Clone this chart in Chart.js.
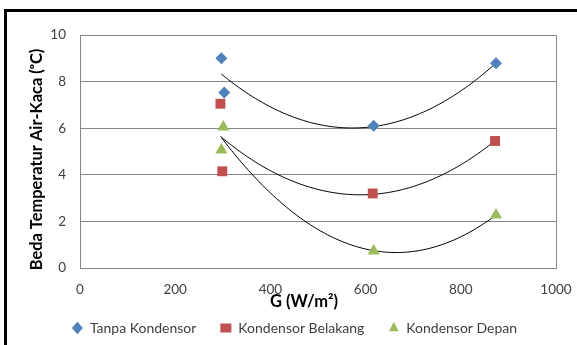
<!DOCTYPE html>
<html>
<head>
<meta charset="utf-8">
<script src="https://cdn.jsdelivr.net/npm/chart.js@4"></script>
<style>
  html, body { margin: 0; padding: 0; background: #fff; }
  #wrap { position: relative; width: 577px; height: 345px; overflow: hidden; }
  #frame { position: absolute; left: 4px; top: 9px; width: 700px; height: 500px; border-top: 3px solid #000; border-left: 3px solid #000; }
  canvas { position: absolute; left: 0; top: 0; }
</style>
</head>
<body>
<div id="wrap">
  <div id="frame"></div>
  <canvas id="chart" width="577" height="345"></canvas>
</div>
<script>
// --- DATA ---
const seriesNames = ['Tanpa Kondensor', 'Kondensor Belakang', 'Kondensor Depan'];
const tanpaG = [297, 303, 617, 874];
const tanpaT = [9.0, 7.53, 6.1, 8.79];
const belakangG = [295, 299, 615, 872];
const belakangT = [7.05, 4.15, 3.2, 5.45];
const depanG = [301, 297, 617, 874];
const depanT = [6.05, 5.06, 0.73, 2.28];
const xTicks = [0, 200, 400, 600, 800, 1000];
const yTicks = [0, 2, 4, 6, 8, 10];

const colors = ['#4F81BD', '#C0504D', '#9BBB59'];
const styles = ['rectRot', 'rect', 'triangle'];
const radii = [6, 7, 7];
const FONT = 'Lato, "Open Sans", sans-serif';
const NB = '\u00a0';

// polynomial (order 2) trendline, like the Excel one
function quadFit(xs, ys) {
    let n = xs.length, sx = 0, sx2 = 0, sx3 = 0, sx4 = 0, sy = 0, sxy = 0, sx2y = 0;
    xs.forEach((x, i) => {
        const y = ys[i];
        sx += x; sx2 += x * x; sx3 += x ** 3; sx4 += x ** 4;
        sy += y; sxy += x * y; sx2y += x * x * y;
    });
    const M = [[n, sx, sx2, sy], [sx, sx2, sx3, sxy], [sx2, sx3, sx4, sx2y]];
    for (let c = 0; c < 3; c++) {
        for (let r = c + 1; r < 3; r++) {
            const f = M[r][c] / M[c][c];
            for (let k = c; k < 4; k++) M[r][k] -= f * M[c][k];
        }
    }
    const coef = [0, 0, 0];
    for (let r = 2; r >= 0; r--) {
        let s = M[r][3];
        for (let k = r + 1; k < 3; k++) s -= M[r][k] * coef[k];
        coef[r] = s / M[r][r];
    }
    const lo = Math.min(...xs), hi = Math.max(...xs);
    const pts = [];
    for (let i = 0; i <= 80; i++) {
        const x = lo + (hi - lo) * i / 80;
        pts.push({ x, y: coef[0] + coef[1] * x + coef[2] * x * x });
    }
    return pts;
}

const allG = [tanpaG, belakangG, depanG];
const allT = [tanpaT, belakangT, depanT];

const datasets = [];
allG.forEach((gs, i) => {
    datasets.push({
        label: 'trend' + i,
        data: quadFit(gs, allT[i]),
        showLine: true,
        borderColor: '#000',
        borderWidth: 1,
        pointRadius: 0,
        order: 5,
    });
});
allG.forEach((gs, i) => {
    datasets.push({
        label: seriesNames[i],
        data: gs.map((g, j) => ({ x: g, y: allT[i][j] })),
        showLine: false,
        backgroundColor: colors[i],
        borderColor: colors[i],
        pointStyle: styles[i],
        pointRadius: radii[i],
        borderWidth: 0,
        order: 1,
    });
});

new Chart(document.getElementById('chart'), {
    type: 'scatter',
    data: { datasets },
    options: {
        responsive: false,
        animation: false,
        layout: { padding: { top: 35, right: 21, left: 33, bottom: 0 } },
        plugins: {
            tooltip: { enabled: false },
            legend: {
                position: 'bottom',
                maxHeight: 50,
                labels: {
                    filter: item => !item.text.startsWith('trend'),
                    usePointStyle: true,
                    pointStyleWidth: 11,
                    boxHeight: 9,
                    padding: 24,
                    color: '#404040',
                    font: { family: FONT, size: 14 },
                },
            },
        },
        scales: {
            x: {
                type: 'linear', min: 0, max: 1000,
                afterBuildTicks: s => { s.ticks = xTicks.map(v => ({ value: v })); },
                grid: { display: false, drawTicks: false },
                border: { display: true, color: '#868686' },
                ticks: { color: '#404040', padding: 14, font: { family: FONT, size: 13.5 }, callback: v => String(v) },
                title: { display: true, text: 'G (W/m²)' + NB.repeat(7), color: '#000', padding: { top: 0, bottom: -15 }, font: { family: FONT, size: 16.5, weight: 'bold' } },
                afterFit: s => { s.height = 29; s.paddingRight = 0; },
            },
            y: {
                type: 'linear', min: 0, max: 10,
                afterBuildTicks: s => { s.ticks = yTicks.map(v => ({ value: v })); },
                grid: { color: '#868686', drawTicks: false },
                border: { display: true, color: '#868686' },
                ticks: { color: '#404040', padding: 14, font: { family: FONT, size: 13.5 } },
                title: { display: true, text: 'Beda Temperatur Air-Kaca (ᵒC)' + NB.repeat(4), color: '#000', padding: { top: -6.3, bottom: 0 }, font: { family: FONT, size: 16.4, weight: 'bold' } },
                afterFit: s => { s.width = 47; },
            },
        },
    },
    plugins: [{
        id: 'plotBorder',
        afterDraw(chart) {
            const { ctx, chartArea: a } = chart;
            ctx.save();
            ctx.strokeStyle = '#868686';
            ctx.lineWidth = 1;
            ctx.beginPath();
            ctx.moveTo(a.left, a.top + 0.5); ctx.lineTo(a.right + 0.5, a.top + 0.5);
            ctx.lineTo(a.right + 0.5, a.bottom);
            ctx.stroke();
            ctx.restore();
        },
    }],
});
</script>
</body>
</html>
